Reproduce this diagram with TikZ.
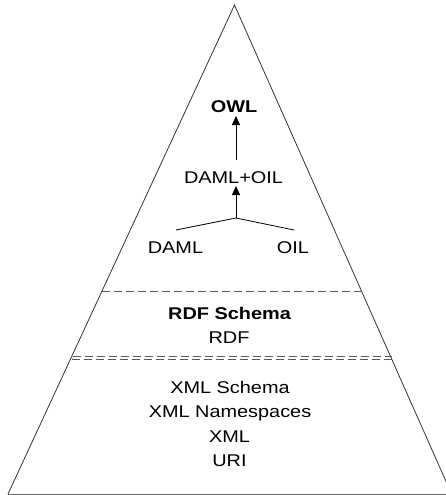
\documentclass[tikz,border=0pt]{standalone}
\usepackage{fontspec}
\setmainfont[FakeStretch=1.17]{Liberation Sans}
\usetikzlibrary{arrows.meta}
\tikzset{
  lbl/.style={inner sep=0pt, anchor=base, font=\fontsize{17}{20}\selectfont},
  bold/.style={lbl, font=\fontsize{17}{20}\selectfont\bfseries},
  edge/.style={draw=black!80, line width=0.8pt},
  sep/.style={draw=black!65, line width=0.8pt, dash pattern=on 8pt off 4pt},
  conn/.style={draw=black, line width=0.8pt},
  arr/.style={conn, -{Triangle[length=9pt,width=8pt]}}
}
\begin{document}
\begin{tikzpicture}[x=1pt,y=-1pt]
\useasboundingbox (0,0) rectangle (446,495);
% pyramid
\coordinate (apex) at (234.5,5);
\coordinate (bl) at (8,494);
\coordinate (br) at (451.6,494);
\draw[edge] (bl) -- (apex) -- (br);
\draw[draw=black!60, line width=0.8pt] (bl) -- (br);
% layer separators
\coordinate (s1l) at (102,291);
\coordinate (s1r) at (361.5,291);
\coordinate (s2l) at (73,356);
\coordinate (s2r) at (392,356);
\coordinate (s3l) at (71.5,359.5);
\coordinate (s3r) at (394,359.5);
\draw[sep] (s1l) -- (s1r);
\draw[sep] (s2l) -- (s2r);
\draw[sep] (s3l) -- (s3r);
% texts
\node[bold] (owl) at (234,112) {OWL};
\node[lbl] (damloil) at (233.5,183) {DAML+OIL};
\node[lbl] (daml) at (175.5,253) {DAML};
\node[lbl] (oil) at (293,253) {OIL};
\node[bold] (rdfs) at (229.5,319) {RDF Schema};
\node[lbl] (rdf) at (229,343) {RDF};
\node[lbl] (xmls) at (230,393) {XML Schema};
\node[lbl] (xmlns) at (230,417) {XML Namespaces};
\node[lbl] (xml) at (229.5,442) {XML};
\node[lbl] (uri) at (229.5,466) {URI};
% connectors
\coordinate (j) at (236,218);
\coordinate (dl) at (176,230);
\coordinate (ol) at (294,230);
\coordinate (t1) at (236,160);
\coordinate (h1) at (236,116);
\coordinate (h2) at (236,186);
\draw[conn] (dl) -- (j) -- (ol);
\draw[arr] (j) -- (h2);
\draw[arr] (t1) -- (h1);
\end{tikzpicture}
\end{document}
